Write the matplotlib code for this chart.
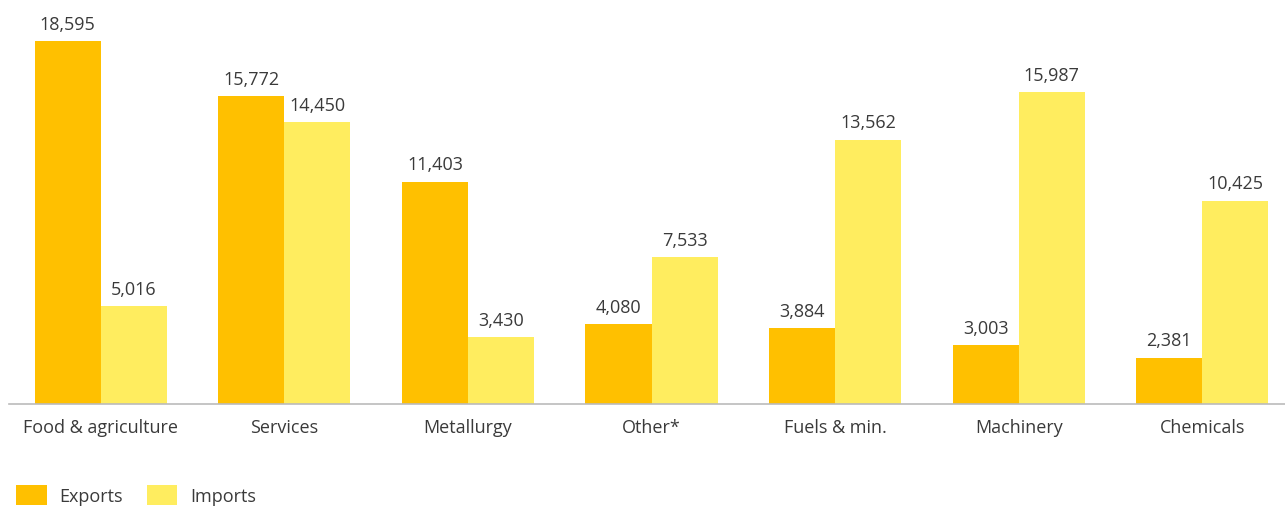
import matplotlib
matplotlib.use("Agg")
import matplotlib.pyplot as plt
import numpy as np

# datos del grafico
categories = ["Food & agriculture", "Services", "Metallurgy", "Other*",
              "Fuels & min.", "Machinery", "Chemicals"]
exports = [18595, 15772, 11403, 4080, 3884, 3003, 2381]
imports = [5016, 14450, 3430, 7533, 13562, 15987, 10425]

c_exp = "#FFC000"
c_imp = "#FFED5F"
txt = "#3a3a3a"

plt.rcParams['font.family'] = ['Open Sans', 'DejaVu Sans']

fig = plt.figure(figsize=(12.85, 5.10), dpi=100)
ax = fig.add_axes([9/1285, 105/510, 1276/1285, 390/510])

x = np.arange(len(categories))
w = 0.36
b1 = ax.bar(x - w/2, exports, w, color=c_exp, label="Exports")
b2 = ax.bar(x + w/2, imports, w, color=c_imp, label="Imports")

for bars in (b1, b2):
    for r in bars:
        h = r.get_height()
        ax.annotate(f"{h:,.0f}", (r.get_x() + r.get_width()/2, h),
                    xytext=(0, 6), textcoords="offset points",
                    ha="center", va="bottom", fontsize=13, color=txt)

ax.set_xlim(-0.5, 6.45)
ax.set_ylim(0, 20000)
ax.set_xticks(x)
ax.set_xticklabels(categories, fontsize=13, color=txt)
ax.tick_params(axis='x', length=0, pad=10)
ax.set_yticks([])
for s in ("top", "right", "left"):
    ax.spines[s].set_visible(False)
ax.spines["bottom"].set_color("#BBBBBB")
ax.spines["bottom"].set_linewidth(1.2)

fig.legend(handles=[b1, b2], loc="lower left", bbox_to_anchor=(0/1285, -12/510),
           ncol=2, frameon=False, fontsize=13, labelcolor=txt,
           handlelength=1.7, handleheight=1.3, handletextpad=0.7, columnspacing=1.3)

fig.savefig("out.png", dpi=100)
